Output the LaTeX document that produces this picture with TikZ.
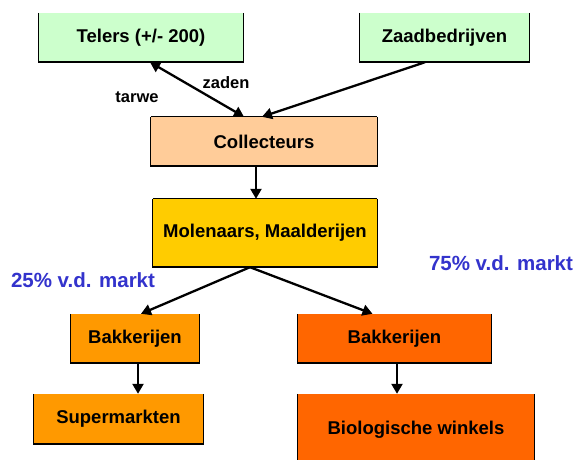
\documentclass[tikz,border=0pt]{standalone}
\usepackage{fontspec}
\setmainfont{Liberation Sans}
\usetikzlibrary{arrows.meta,calc}
\definecolor{cgreen}{HTML}{CCFFCC}
\definecolor{cpeach}{HTML}{FFCC99}
\definecolor{cgold}{HTML}{FFCC00}
\definecolor{corange}{HTML}{FF9900}
\definecolor{cred}{HTML}{FF6600}
\definecolor{cblue}{HTML}{3333CC}
\tikzset{
  box/.style={rectangle, inner sep=0pt, font=\fontsize{18.5}{20}\selectfont\bfseries},
  flow/.style={line width=2.3pt, -{Triangle[length=10pt,width=11pt]}},
  twoway/.style={line width=2.3pt, {Triangle[length=10pt,width=11pt]}-{Triangle[length=10pt,width=11pt]}},
  lbl/.style={font=\fontsize{16.5}{18}\selectfont\bfseries, inner sep=0pt},
  pct/.style={font=\fontsize{20.5}{22}\selectfont\bfseries, text=cblue, inner sep=0pt},
  edge/.style={line width=0.8pt, draw=black},
  shade/.style={line width=2.5pt, draw=black, line cap=rect}
}
\begin{document}
\begin{tikzpicture}[x=1pt,y=-1pt]
\useasboundingbox (0,0) rectangle (574,460);
% nodes
\node[box, fill=cgreen, minimum width=204pt, minimum height=49pt] (tel) at (141,37.5) {Telers (+/- 200)};
\node[box, fill=cgreen, minimum width=169pt, minimum height=49pt] (zaad) at (444.5,37.5) {Zaadbedrijven};
\node[box, fill=cpeach, minimum width=226pt, minimum height=49pt] (col) at (264,141.5) {Collecteurs};
\node[box, fill=cgold, minimum width=224pt, minimum height=68pt] (mol) at (265,233) {Molenaars, Maalderijen};
\node[box, fill=corange, minimum width=128pt, minimum height=49pt] (bakl) at (135,338.5) {Bakkerijen};
\node[box, fill=cred, minimum width=193pt, minimum height=49pt] (bakr) at (394.5,338.5) {Bakkerijen};
\node[box, fill=corange, minimum width=169pt, minimum height=50pt] (sup) at (118.5,419) {Supermarkten};
\node[box, fill=cred, minimum width=236pt, minimum height=68pt] (bio) at (416,428) {};
\node[box] (biotext) at (416,430) {Biologische winkels};
% borders
\foreach \n in {tel,zaad,col,mol,bakl,bakr,sup,bio}{
  \draw[edge] (\n.north west) -- (\n.south west);
  \draw[edge] (\n.north east) -- (\n.south east);
  \draw[shade] (\n.south west) -- (\n.south east);
}
\foreach \n in {col,mol}{
  \draw[edge] (\n.north west) -- (\n.north east);
}
% connectors
\draw[twoway] ([xshift=-20pt]col.north) -- ([xshift=9pt]tel.south);
\draw[flow] ([xshift=-19.5pt]zaad.south) -- ([xshift=-2pt]col.north);
\draw[flow] ([xshift=-8pt]col.south) -- ([xshift=-9pt]mol.north);
\draw[flow] ([xshift=-15pt]mol.south) -- ([xshift=6pt]bakl.north);
\draw[flow] ([xshift=-15pt]mol.south) -- ([xshift=-22pt]bakr.north);
\draw[flow] ([xshift=3pt]bakl.south) -- ([xshift=19.5pt]sup.north);
\draw[flow] ([xshift=2.5pt]bakr.south) -- ([xshift=-19pt]bio.north);
% labels
\node[lbl] (tarwe) at (137,97) {tarwe};
\node[lbl] (zaden) at (226,83) {zaden};
\node[pct] (p25) at (83,280) {25\% v.d. markt};
\node[pct] (p75) at (501,263) {75\% v.d. markt};
\end{tikzpicture}
\end{document}
